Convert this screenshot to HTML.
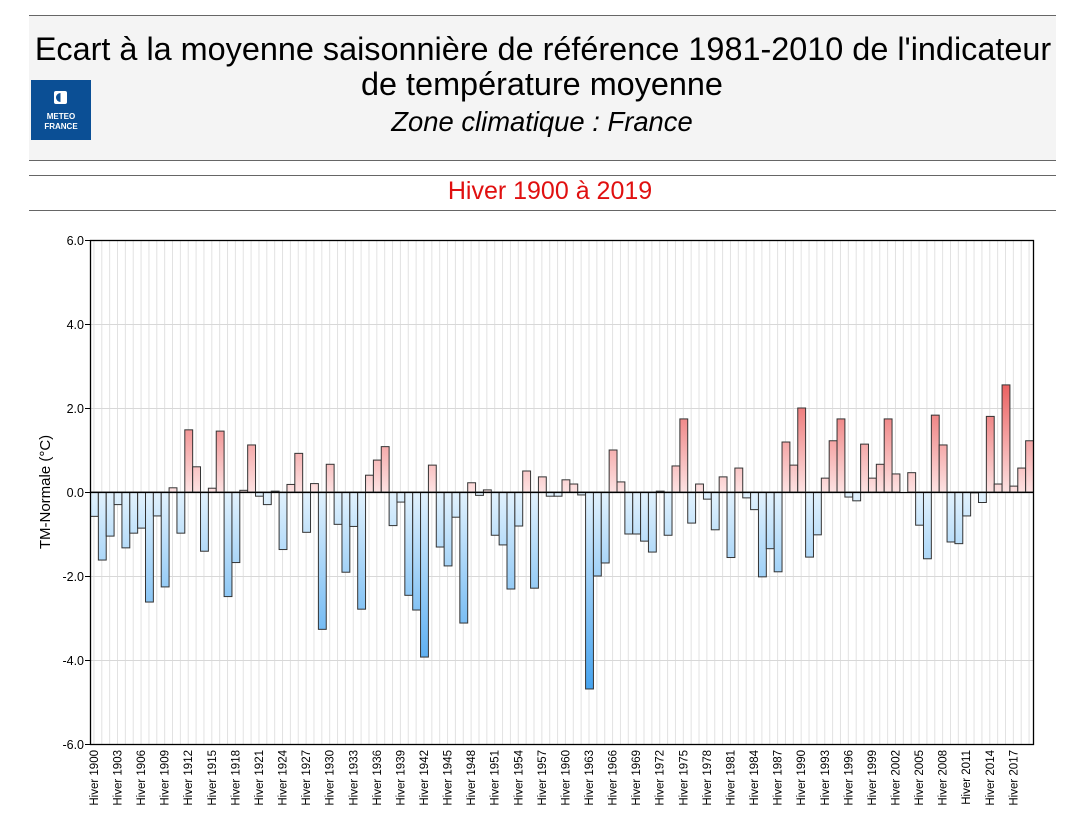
<!DOCTYPE html>
<html><head><meta charset="utf-8">
<style>
body{margin:0;background:#fff;width:1080px;height:834px;overflow:hidden;font-family:"Liberation Sans",sans-serif;}
svg{position:absolute;left:0;top:0}
</style></head><body>
<svg width="1080" height="834" xmlns="http://www.w3.org/2000/svg" font-family="Liberation Sans, sans-serif">
<defs>
<linearGradient id="gb" gradientUnits="userSpaceOnUse" x1="0" y1="492" x2="0" y2="700"><stop offset="0" stop-color="#e2f2fd"/><stop offset="1" stop-color="#3d9fee"/></linearGradient>
<linearGradient id="gr" gradientUnits="userSpaceOnUse" x1="0" y1="492" x2="0" y2="370"><stop offset="0" stop-color="#fde2e2"/><stop offset="1" stop-color="#e85050"/></linearGradient>
</defs>
<rect x="29" y="15" width="1027" height="145" fill="#f4f4f4"/>
<line x1="29" y1="15.5" x2="1056" y2="15.5" stroke="#666"/>
<line x1="29" y1="160.5" x2="1056" y2="160.5" stroke="#666"/>
<line x1="29" y1="175.5" x2="1056" y2="175.5" stroke="#666"/>
<line x1="29" y1="210.5" x2="1056" y2="210.5" stroke="#666"/>
<rect x="31" y="80" width="60" height="60" fill="#0b4f95"/>
<rect x="54" y="91" width="13" height="13" rx="2" fill="#fff"/>
<circle cx="60.5" cy="97.5" r="4.5" fill="#0b4f95"/><rect x="60.5" y="93" width="4.5" height="9" fill="#fff"/>
<text x="61" y="119" font-size="8" font-weight="bold" fill="#fff" text-anchor="middle">METEO</text>
<text x="61" y="129" font-size="8" font-weight="bold" fill="#fff" text-anchor="middle">FRANCE</text>
<text x="543" y="60" font-size="32.4" text-anchor="middle" fill="#000">Ecart à la moyenne saisonnière de référence 1981-2010 de l'indicateur</text>
<text x="542" y="95" font-size="32.4" text-anchor="middle" fill="#000">de température moyenne</text>
<text x="542" y="131" font-size="27.4" font-style="italic" text-anchor="middle" fill="#000">Zone climatique : France</text>
<text x="550" y="199" font-size="25" text-anchor="middle" fill="#e01010">Hiver 1900 à 2019</text>
<g id="grid"></g>
<g stroke="#d8d8d8" stroke-width="1">
<line x1="90" y1="324.5" x2="1033" y2="324.5"/><line x1="90" y1="408.5" x2="1033" y2="408.5"/>
<line x1="90" y1="576.5" x2="1033" y2="576.5"/><line x1="90" y1="660.5" x2="1033" y2="660.5"/>
</g>
<g id="bars"></g>
<line x1="90" y1="492.5" x2="1033" y2="492.5" stroke="#000" stroke-width="1.2"/>
<rect x="90.5" y="240.5" width="943" height="504" fill="none" stroke="#000" stroke-width="1.3"/>
<g stroke="#000"><line x1="85" y1="240.5" x2="90" y2="240.5"/><line x1="85" y1="324.5" x2="90" y2="324.5"/><line x1="85" y1="408.5" x2="90" y2="408.5"/><line x1="85" y1="492.5" x2="90" y2="492.5"/><line x1="85" y1="576.5" x2="90" y2="576.5"/><line x1="85" y1="660.5" x2="90" y2="660.5"/><line x1="85" y1="744.5" x2="90" y2="744.5"/></g>
<g font-size="12.5" text-anchor="end" fill="#000">
<text x="84" y="245">6.0</text><text x="84" y="329">4.0</text><text x="84" y="413">2.0</text><text x="84" y="497">0.0</text><text x="84" y="581">-2.0</text><text x="84" y="665">-4.0</text><text x="84" y="749">-6.0</text>
</g>
<text transform="translate(50,492) rotate(-90)" font-size="15" text-anchor="middle" fill="#000">TM-Normale (°C)</text>
<g font-size="11.5" text-anchor="end" fill="#000">
<text transform="translate(98,750) rotate(-90)">Hiver 1900</text>
<text transform="translate(121.5,750) rotate(-90)">Hiver 1903</text>
<text transform="translate(145.1,750) rotate(-90)">Hiver 1906</text>
<text transform="translate(168.7,750) rotate(-90)">Hiver 1909</text>
<text transform="translate(192.2,750) rotate(-90)">Hiver 1912</text>
<text transform="translate(215.8,750) rotate(-90)">Hiver 1915</text>
<text transform="translate(239.4,750) rotate(-90)">Hiver 1918</text>
<text transform="translate(263,750) rotate(-90)">Hiver 1921</text>
<text transform="translate(286.5,750) rotate(-90)">Hiver 1924</text>
<text transform="translate(310.1,750) rotate(-90)">Hiver 1927</text>
<text transform="translate(333.7,750) rotate(-90)">Hiver 1930</text>
<text transform="translate(357.3,750) rotate(-90)">Hiver 1933</text>
<text transform="translate(380.8,750) rotate(-90)">Hiver 1936</text>
<text transform="translate(404.4,750) rotate(-90)">Hiver 1939</text>
<text transform="translate(428,750) rotate(-90)">Hiver 1942</text>
<text transform="translate(451.6,750) rotate(-90)">Hiver 1945</text>
<text transform="translate(475.1,750) rotate(-90)">Hiver 1948</text>
<text transform="translate(498.7,750) rotate(-90)">Hiver 1951</text>
<text transform="translate(522.3,750) rotate(-90)">Hiver 1954</text>
<text transform="translate(545.9,750) rotate(-90)">Hiver 1957</text>
<text transform="translate(569.4,750) rotate(-90)">Hiver 1960</text>
<text transform="translate(593,750) rotate(-90)">Hiver 1963</text>
<text transform="translate(616.6,750) rotate(-90)">Hiver 1966</text>
<text transform="translate(640.2,750) rotate(-90)">Hiver 1969</text>
<text transform="translate(663.7,750) rotate(-90)">Hiver 1972</text>
<text transform="translate(687.3,750) rotate(-90)">Hiver 1975</text>
<text transform="translate(710.9,750) rotate(-90)">Hiver 1978</text>
<text transform="translate(734.5,750) rotate(-90)">Hiver 1981</text>
<text transform="translate(758,750) rotate(-90)">Hiver 1984</text>
<text transform="translate(781.6,750) rotate(-90)">Hiver 1987</text>
<text transform="translate(805.2,750) rotate(-90)">Hiver 1990</text>
<text transform="translate(828.8,750) rotate(-90)">Hiver 1993</text>
<text transform="translate(852.3,750) rotate(-90)">Hiver 1996</text>
<text transform="translate(875.9,750) rotate(-90)">Hiver 1999</text>
<text transform="translate(899.5,750) rotate(-90)">Hiver 2002</text>
<text transform="translate(923.1,750) rotate(-90)">Hiver 2005</text>
<text transform="translate(946.6,750) rotate(-90)">Hiver 2008</text>
<text transform="translate(970.2,750) rotate(-90)">Hiver 2011</text>
<text transform="translate(993.8,750) rotate(-90)">Hiver 2014</text>
<text transform="translate(1017.4,750) rotate(-90)">Hiver 2017</text>
</g>
</svg>
<script>
var v=[-0.58,-1.62,-1.05,-0.3,-1.33,-0.98,-0.86,-2.62,-0.57,-2.26,0.1,-0.98,1.48,0.6,-1.41,0.09,1.45,-2.49,-1.68,0.04,1.12,-0.1,-0.3,0.02,-1.37,0.18,0.92,-0.96,0.2,-3.27,0.66,-0.77,-1.91,-0.82,-2.79,0.4,0.76,1.08,-0.8,-0.24,-2.46,-2.81,-3.93,0.64,-1.31,-1.76,-0.6,-3.12,0.22,-0.08,0.05,-1.03,-1.26,-2.31,-0.81,0.5,-2.29,0.36,-0.1,-0.1,0.29,0.19,-0.07,-4.69,-2.0,-1.69,1.0,0.24,-1.0,-1.0,-1.17,-1.43,0.02,-1.03,0.62,1.74,-0.74,0.19,-0.17,-0.9,0.36,-1.56,0.57,-0.14,-0.42,-2.02,-1.35,-1.9,1.19,0.64,2.0,-1.55,-1.02,0.33,1.22,1.74,-0.12,-0.21,1.14,0.33,0.66,1.74,0.43,0,0.46,-0.79,-1.59,1.83,1.12,-1.19,-1.23,-0.57,-0.02,-0.25,1.8,0.19,2.55,0.14,0.57,1.22];
var ns="http://www.w3.org/2000/svg",w=943/120,g=document.getElementById('bars'),gr=document.getElementById('grid');
for(var i=0;i<120;i++){
 var cx=90+(i+0.5)*w;
 var l=document.createElementNS(ns,'line');l.setAttribute('x1',cx);l.setAttribute('x2',cx);l.setAttribute('y1',240);l.setAttribute('y2',744);l.setAttribute('stroke','#e2e2e2');gr.appendChild(l);
 var h=Math.abs(v[i])*42;if(h<0.5)continue;
 var r=document.createElementNS(ns,'rect');
 r.setAttribute('x',90+i*w+0.5);r.setAttribute('width',w);
 r.setAttribute('y',v[i]>0?492-h:492);r.setAttribute('height',h);
 r.setAttribute('fill',v[i]>0?'url(#gr)':'url(#gb)');r.setAttribute('stroke','#333');r.setAttribute('stroke-width','1');
 g.appendChild(r);
}
</script>
</body></html>
